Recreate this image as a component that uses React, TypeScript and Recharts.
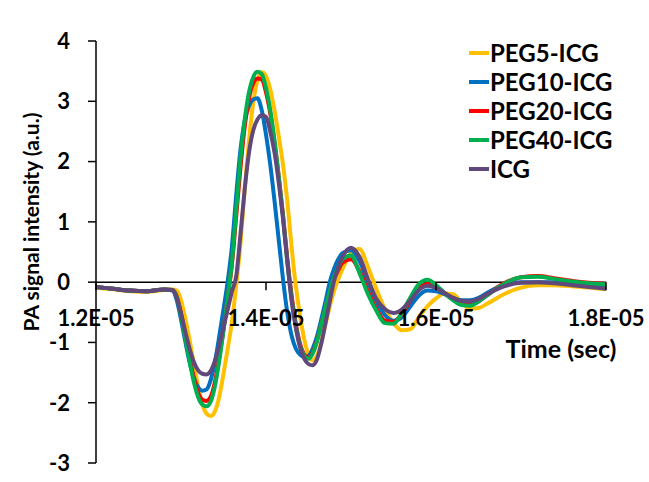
import React from 'react'
import { LineChart, Line, XAxis, YAxis, ReferenceLine } from 'recharts'

// time in microseconds (axis labels show it as x.xE-05 s)
const TIME = [
  12.0, 12.2, 12.4, 12.6, 12.8,
  12.9, 12.95, 13.0, 13.05, 13.1, 13.15, 13.2, 13.25, 13.3, 13.35,
  13.4, 13.45, 13.5, 13.55, 13.6, 13.65, 13.7, 13.75, 13.8, 13.85,
  13.9, 13.95, 14.0, 14.05, 14.1, 14.15, 14.2, 14.25, 14.3, 14.35,
  14.4, 14.45, 14.5, 14.55, 14.6, 14.65, 14.7, 14.75, 14.8, 14.85, 14.9,
  15.0, 15.1, 15.2, 15.3, 15.4, 15.5, 15.6, 15.7, 15.8, 15.9,
  16.0, 16.1, 16.2, 16.3, 16.4, 16.5, 16.6,
  16.8, 17.0, 17.2, 17.4, 17.6, 17.8, 18.0,
]

const PEG5 = [
  -0.09, -0.12, -0.15, -0.16, -0.13,
  -0.12, -0.14, -0.3, -0.6, -0.95, -1.35, -1.72, -2.02, -2.18, -2.22,
  -2.14, -1.9, -1.52, -1.1, -0.65, -0.05, 0.65, 1.55, 2.35, 2.98,
  3.35, 3.48, 3.42, 3.2, 2.85, 2.42, 1.95, 1.35, 0.6, -0.05,
  -0.55, -0.95, -1.2, -1.3, -1.22, -1.0, -0.7, -0.4, -0.15, 0.05, 0.22,
  0.48, 0.55, 0.25, -0.12, -0.45, -0.68, -0.8, -0.78, -0.58, -0.4,
  -0.27, -0.19, -0.2, -0.33, -0.44, -0.43, -0.36,
  -0.2, -0.09, -0.05, -0.05, -0.07, -0.09, -0.12,
]

const PEG10 = [
  -0.08, -0.11, -0.14, -0.15, -0.12,
  -0.14, -0.3, -0.62, -0.98, -1.32, -1.58, -1.74, -1.8, -1.78, -1.62,
  -1.32, -0.9, -0.45, 0.02, 0.6, 1.45, 2.2, 2.68, 2.92, 3.03,
  3.05, 2.85, 2.45, 1.95, 1.35, 0.7, 0.05, -0.5, -0.88, -1.1,
  -1.2, -1.24, -1.22, -1.1, -0.9, -0.62, -0.32, 0.0, 0.22, 0.38, 0.48,
  0.53, 0.35, 0.0, -0.32, -0.55, -0.64, -0.58, -0.4, -0.22, -0.14,
  -0.15, -0.2, -0.26, -0.3, -0.3, -0.26, -0.18,
  -0.04, 0.0, 0.0, 0.0, -0.02, -0.04, -0.05,
]

const PEG20 = [
  -0.08, -0.11, -0.14, -0.15, -0.12,
  -0.13, -0.24, -0.52, -0.88, -1.25, -1.58, -1.83, -1.95, -1.97, -1.9,
  -1.65, -1.26, -0.78, -0.25, 0.3, 1.1, 1.9, 2.58, 3.05, 3.3,
  3.38, 3.36, 3.15, 2.8, 2.32, 1.75, 1.12, 0.4, -0.2, -0.68,
  -1.02, -1.2, -1.25, -1.17, -0.97, -0.7, -0.43, -0.17, 0.05, 0.2, 0.32,
  0.38, 0.18, -0.16, -0.45, -0.64, -0.66, -0.52, -0.3, -0.1, -0.03,
  -0.08, -0.18, -0.28, -0.36, -0.37, -0.32, -0.22,
  -0.02, 0.08, 0.1, 0.06, 0.02, -0.01, -0.03,
]

const PEG40 = [
  -0.08, -0.11, -0.14, -0.15, -0.12,
  -0.13, -0.25, -0.55, -0.92, -1.3, -1.65, -1.9, -2.03, -2.06, -1.98,
  -1.72, -1.3, -0.8, -0.25, 0.35, 1.2, 2.05, 2.7, 3.15, 3.4,
  3.49, 3.45, 3.22, 2.85, 2.35, 1.75, 1.1, 0.35, -0.25, -0.72,
  -1.05, -1.22, -1.27, -1.18, -0.98, -0.7, -0.42, -0.15, 0.08, 0.25, 0.38,
  0.44, 0.15, -0.2, -0.48, -0.68, -0.69, -0.5, -0.25, -0.03, 0.04,
  -0.05, -0.18, -0.3, -0.38, -0.39, -0.32, -0.22,
  -0.03, 0.08, 0.09, 0.05, 0.01, -0.02, -0.04,
]

const ICG = [
  -0.08, -0.11, -0.14, -0.15, -0.12,
  -0.13, -0.26, -0.52, -0.82, -1.1, -1.32, -1.46, -1.52, -1.53, -1.47,
  -1.3, -1.05, -0.75, -0.45, -0.15, 0.1, 0.8, 1.55, 2.15, 2.52,
  2.7, 2.77, 2.74, 2.5, 2.15, 1.65, 1.05, 0.35, -0.3, -0.75,
  -1.08, -1.27, -1.36, -1.38, -1.28, -1.02, -0.68, -0.32, 0.02, 0.25, 0.42,
  0.57, 0.42, 0.05, -0.28, -0.45, -0.51, -0.45, -0.3, -0.13, -0.06,
  -0.1, -0.18, -0.26, -0.31, -0.32, -0.28, -0.2,
  -0.07, -0.01, 0.0, -0.02, -0.05, -0.08, -0.11,
]

const SERIES = [
  { key: 'peg5', name: 'PEG5-ICG', color: '#FFC000', values: PEG5 },
  { key: 'peg10', name: 'PEG10-ICG', color: '#0070C0', values: PEG10 },
  { key: 'peg20', name: 'PEG20-ICG', color: '#FF0000', values: PEG20 },
  { key: 'peg40', name: 'PEG40-ICG', color: '#00B050', values: PEG40 },
  { key: 'icg', name: 'ICG', color: '#60497A', values: ICG },
]

const X_TICKS = [12, 14, 16, 18]
const Y_TICKS = [-3, -2, -1, 0, 1, 2, 3, 4]
const Y_MIN = -3
const Y_MAX = 4

const W = 649
const H = 482
const Y_AXIS_W = 76
const X_AXIS_H = 19
// plot area: x 96..606, y 41..463
const M = { top: 41, right: 43, bottom: 0, left: 20 }
const PLOT_H = H - M.top - M.bottom - X_AXIS_H
const ZERO_Y = M.top + (PLOT_H * Y_MAX) / (Y_MAX - Y_MIN)

const FONT = 'Lato, "Open Sans", sans-serif'

const data = TIME.map((t, i) => {
  const row: Record<string, number> = { t }
  SERIES.forEach((s) => (row[s.key] = s.values[i]))
  return row
})

const fmtX = (v: number) => `${(v / 10).toFixed(1)}E-05`

const XTick = ({ x, payload }: any) => (
  <g>
    <line x1={x} x2={x} y1={ZERO_Y} y2={ZERO_Y + 8} stroke="#000" strokeWidth={1.5} />
    <text
      x={x}
      y={ZERO_Y + 35}
      textAnchor="middle"
      dominantBaseline="central"
      fontFamily={FONT}
      fontWeight={700}
      fontSize={22}
      fill="#000"
    >
      {fmtX(payload.value)}
    </text>
  </g>
)

const LegendBox = () => (
  <div style={{ position: 'absolute', left: 469, top: 38, fontFamily: FONT }}>
    {SERIES.map((s) => (
      <div key={s.key} style={{ display: 'flex', alignItems: 'center', height: 29 }}>
        <span style={{ width: 20, height: 4, background: s.color, marginRight: 1 }} />
        <span style={{ fontSize: 24, fontWeight: 700, lineHeight: '29px', color: '#000' }}>{s.name}</span>
      </div>
    ))}
  </div>
)

export default function App() {
  return (
    <div style={{ position: 'absolute', left: 0, top: 0, width: W, height: H, background: '#fff' }}>
      <LineChart width={W} height={H} data={data} margin={M}>
        <XAxis
          dataKey="t"
          type="number"
          domain={[12, 18]}
          ticks={X_TICKS}
          axisLine={false}
          tickLine={false}
          height={X_AXIS_H}
          tick={<XTick />}
          interval={0}
        />
        <YAxis
          type="number"
          domain={[Y_MIN, Y_MAX]}
          ticks={Y_TICKS}
          width={Y_AXIS_W}
          interval={0}
          axisLine={{ stroke: '#000', strokeWidth: 1.5 }}
          tickLine={{ stroke: '#000', strokeWidth: 1.5 }}
          tickSize={8}
          tickMargin={18}
          tick={{ fill: '#000', fontSize: 22, fontWeight: 700, fontFamily: FONT }}
        />
        <ReferenceLine y={0} stroke="#000" strokeWidth={1.5} />
        {SERIES.map((s) => (
          <Line
            key={s.key}
            dataKey={s.key}
            name={s.name}
            type="monotone"
            stroke={s.color}
            strokeWidth={4}
            dot={false}
            isAnimationActive={false}
          />
        ))}
      </LineChart>
      <LegendBox />
      <svg
        width={W}
        height={H}
        style={{ position: 'absolute', left: 0, top: 0, pointerEvents: 'none' }}
      >
        <text
          transform="translate(30,222) rotate(-90)"
          textAnchor="middle"
          dominantBaseline="central"
          fontFamily={FONT}
          fontWeight={700}
          fontSize={21}
        >
          PA signal intensity (a.u.)
        </text>
        <text
          x={561}
          y={348}
          textAnchor="middle"
          dominantBaseline="central"
          fontFamily={FONT}
          fontWeight={700}
          fontSize={25}
        >
          Time (sec)
        </text>
      </svg>
    </div>
  )
}
